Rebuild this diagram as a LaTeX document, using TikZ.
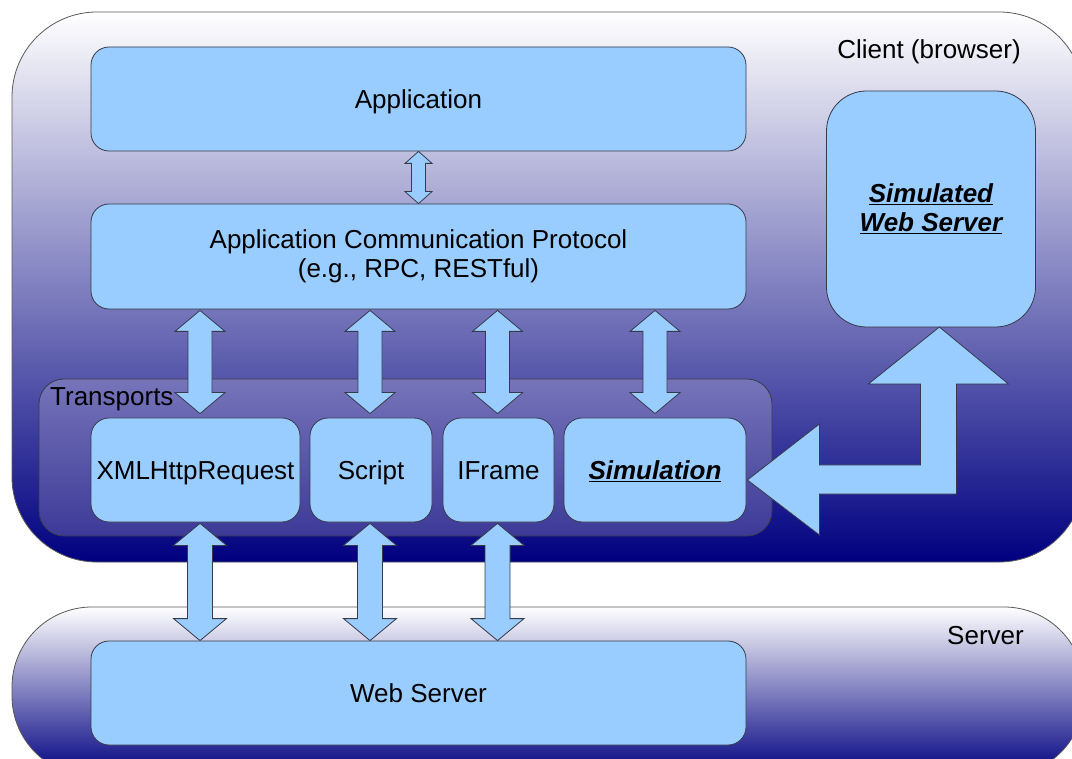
\documentclass[tikz,border=0pt]{standalone}
\usepackage{fontspec}
\setmainfont{Liberation Sans}
\usetikzlibrary{calc}

\definecolor{paleblue}{HTML}{99CCFF}
\definecolor{navyend}{HTML}{000080}
\definecolor{edge}{HTML}{363A4A}
\definecolor{transtop}{HTML}{7674B9}
\definecolor{transbot}{HTML}{3C3A97}

\newcommand{\twoway}[5]{%
	\filldraw[fat] let \p1=(#1), \p2=(#2) in
		(\x1,\y1) -- (\x1+#4pt,\y1-#5pt) -- (\x1+#3pt,\y1-#5pt) -- (\x1+#3pt,\y2+#5pt)
		-- (\x1+#4pt,\y2+#5pt) -- (\x1,\y2) -- (\x1-#4pt,\y2+#5pt) -- (\x1-#3pt,\y2+#5pt)
		-- (\x1-#3pt,\y1-#5pt) -- (\x1-#4pt,\y1-#5pt) -- cycle;}

\begin{document}
\begin{tikzpicture}[
	x=1pt, y=-1pt,
	font=\fontsize{26}{29}\selectfont,
	zone/.style={draw=black!65, line width=0.8pt, top color=white, bottom color=navyend},
	box/.style={draw=edge, line width=0.8pt, fill=paleblue, rounded corners=18,
		minimum height=104, align=center, inner sep=0},
	line/.style={text height=24.6pt, text depth=6pt},
	fat/.style={draw=edge, line width=0.8pt, fill=paleblue, line join=miter},
	tag/.style={inner sep=0},
	sim/.style={font=\fontsize{26}{29}\selectfont\bfseries\itshape},
	]
\useasboundingbox (0,0) rectangle (1072,759);
\clip (0,0) rectangle (1072,759);

\shadedraw[zone, rounded corners=85] (12,12) rectangle (1084,562);
\shadedraw[zone, rounded corners=80] (12,607) rectangle (1084,776);
\shadedraw[draw=edge, line width=0.8pt, top color=transtop, bottom color=transbot,
	rounded corners=25] (39,379) rectangle (772,536);

\node [tag, anchor=base east] (client) at (1021,59) {Client (browser)};
\node [tag, anchor=base east] (server) at (1024,644) {Server};
\node [tag, anchor=base west] (trans) at (50,406) {Transports};

\node [box, line, minimum width=655] (app) at (418.5,99) {Application};
\node [box, minimum width=655, minimum height=105] (acp) at (418.5,256.5)
	{Application Communication Protocol\\(e.g., RPC, RESTful)};
\node [box, line, minimum width=209] (xhr) at (195.5,470) {XMLHttpRequest};
\node [box, line, minimum width=122] (script) at (371,470) {Script};
\node [box, line, minimum width=111] (iframe) at (498.5,470) {IFrame};
\node [box, line, minimum width=182, sim] (sim) at (655,470) {\underline{Simulation}};
\node [box, minimum width=209, minimum height=236, rounded corners=40, sim] (sws)
	at (931,209) {\underline{Simulated}\\\underline{Web Server}};
\node [box, line, minimum width=655] (web) at (418.5,693) {Web Server};

\twoway{app.south}{acp.north}{7}{13.5}{12}

\twoway{$(acp.south -| xhr.north)+(4.5,1)$}{$(xhr.north)+(0,-4)$}{12}{25}{21}
\twoway{$(acp.south -| script.north)+(-1,1)$}{$(script.north)+(0,-4)$}{12}{25}{21}
\twoway{$(acp.south -| iframe.north)+(-1,1)$}{$(iframe.north)+(0,-4)$}{12}{25}{21}
\twoway{$(acp.south -| sim.north)+(0,1)$}{$(sim.north)+(0,-4)$}{12}{25}{21}

\twoway{$(xhr.south)+(4.5,1)$}{web.north}{12.5}{26.5}{22}
\twoway{$(script.south)+(-1,1)$}{web.north}{12.5}{26.5}{22}
\twoway{$(iframe.south)+(-1,1)$}{web.north}{12.5}{26.5}{22}

\filldraw[fat] ($(sim.east)+(1,10)$) -- ++(72,-56) -- ++(0,41) -- ++(101,0)
	-- ++(0,-81) -- ++(-52,0) -- ++(71,-57) -- ++(69,57) -- ++(-52,0)
	-- ++(0,110) -- ++(-137,0) -- ++(0,41) -- cycle;
\end{tikzpicture}
\end{document}
